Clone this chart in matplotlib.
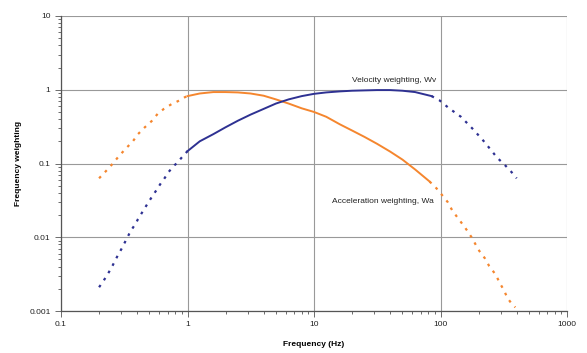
import matplotlib.pyplot as plt
from matplotlib.ticker import FixedLocator, LogLocator, NullFormatter

plt.rcParams['font.family'] = ['Liberation Sans', 'DejaVu Sans']

# Acceleration weighting Wa
wa_low_f = [0.2, 0.23, 0.257, 0.287, 0.326, 0.37, 0.406, 0.46, 0.52, 0.58, 0.65, 0.75, 0.84, 0.95, 1.0]
wa_low_v = [0.063, 0.081, 0.1, 0.126, 0.16, 0.2, 0.25, 0.31, 0.375, 0.47, 0.55, 0.64, 0.70, 0.79, 0.82]
wa_mid_f = [1.0, 1.25, 1.6, 2.0, 2.5, 3.15, 4.0, 5.0, 6.3, 8.0, 10.0, 12.5, 16.0, 20.0, 25.0,
            31.5, 40.0, 50.0, 63.0, 82.0]
wa_mid_v = [0.82, 0.89, 0.93, 0.93, 0.92, 0.89, 0.83, 0.74, 0.65, 0.56, 0.50, 0.43, 0.34, 0.28, 0.23,
            0.185, 0.145, 0.113, 0.083, 0.057]
wa_high_f = [82.0, 93, 102, 114, 124, 138, 154, 163, 178, 194, 203, 224, 242, 254, 276, 294, 318, 338, 360, 390]
wa_high_v = [0.057, 0.046, 0.038, 0.030, 0.023, 0.018, 0.014, 0.0122, 0.0097, 0.0074, 0.0065, 0.0052,
             0.0041, 0.0037, 0.0030, 0.0024, 0.0019, 0.0015, 0.0013, 0.00112]

# Velocity weighting Wv
wv_low_f = [0.2, 0.218, 0.24, 0.257, 0.277, 0.3, 0.326, 0.355, 0.39, 0.406, 0.44, 0.486, 0.51,
            0.56, 0.62, 0.65, 0.71, 0.79, 0.82, 0.92, 1.0]
wv_low_v = [0.0021, 0.0026, 0.0034, 0.0042, 0.0054, 0.0069, 0.0091, 0.0121, 0.0154, 0.0176, 0.022,
            0.029, 0.033, 0.042, 0.055, 0.061, 0.077, 0.095, 0.1, 0.126, 0.147]
wv_mid_f = [1.0, 1.25, 1.6, 2.0, 2.5, 3.15, 4.0, 5.0, 6.3, 8.0, 10.0, 12.5, 16.0, 20.0, 25.0,
            31.5, 40.0, 50.0, 63.0, 85.0]
wv_mid_v = [0.147, 0.2, 0.25, 0.31, 0.38, 0.46, 0.55, 0.65, 0.74, 0.82, 0.88, 0.92, 0.95, 0.97, 0.98,
            0.99, 0.99, 0.97, 0.93, 0.82]
wv_high_f = [85.0, 98, 117, 145, 178, 215, 255, 280, 318, 363, 400]
wv_high_v = [0.82, 0.72, 0.56, 0.43, 0.30, 0.21, 0.147, 0.12, 0.098, 0.077, 0.063]

orange = '#F5862E'
blue = '#2E3192'

fig = plt.figure(figsize=(5.87, 3.53), dpi=100)
ax = fig.add_axes([61 / 587, 1 - 311 / 353, 506 / 587, 295 / 353])

dots = (0, (1.2, 2.6))
ax.plot(wa_low_f, wa_low_v, color=orange, lw=1.6, ls=dots)
ax.plot(wa_mid_f, wa_mid_v, color=orange, lw=1.4)
ax.plot(wa_high_f, wa_high_v, color=orange, lw=1.6, ls=dots)
ax.plot(wv_low_f, wv_low_v, color=blue, lw=1.6, ls=dots)
ax.plot(wv_mid_f, wv_mid_v, color=blue, lw=1.4)
ax.plot(wv_high_f, wv_high_v, color=blue, lw=1.6, ls=dots)

ax.set_xscale('log')
ax.set_yscale('log')
ax.set_xlim(0.1, 1000)
ax.set_ylim(0.001, 10)

ax.xaxis.set_major_locator(FixedLocator([0.1, 1, 10, 100, 1000]))
ax.yaxis.set_major_locator(FixedLocator([0.001, 0.01, 0.1, 1, 10]))
ax.set_xticklabels(['0.1', '1', '10', '100', '1000'])
ax.set_yticklabels(['0.001', '0.01', '0.1', '1', '10'])
ax.xaxis.set_minor_locator(LogLocator(subs=range(2, 10)))
ax.yaxis.set_minor_locator(LogLocator(subs=range(2, 10)))
ax.xaxis.set_minor_formatter(NullFormatter())
ax.yaxis.set_minor_formatter(NullFormatter())

ax.grid(True, which='major', color='#999999', lw=0.8)
ax.tick_params(which='both', direction='out', colors='#555555', labelcolor='#222222',
               labelsize=6, width=0.6)
ax.tick_params(which='major', length=4)
ax.tick_params(which='minor', length=2)
for s in ['top', 'right']:
    ax.spines[s].set_visible(False)
for s in ['left', 'bottom']:
    ax.spines[s].set_color('#555555')
    ax.spines[s].set_linewidth(0.9)

ax.set_xlabel('Frequency (Hz)', fontsize=6, fontweight='bold', labelpad=9)
ax.set_ylabel('Frequency weighting', fontsize=6, fontweight='bold', labelpad=5)

ax.text(43, 1.35, 'Velocity weighting, Wv', fontsize=6, ha='center', va='center', color='#222222')
ax.text(35, 0.031, 'Acceleration weighting, Wa', fontsize=6, ha='center', va='center', color='#222222')

fig.savefig('out.png', dpi=100)
